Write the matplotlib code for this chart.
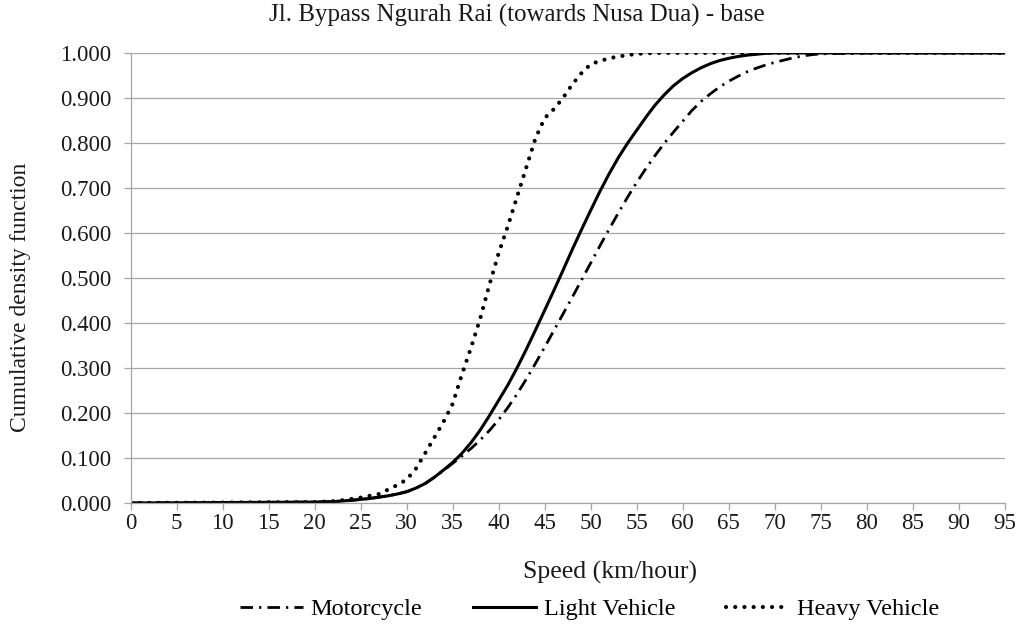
import matplotlib
matplotlib.use("Agg")
import matplotlib.pyplot as plt
from matplotlib.ticker import MultipleLocator, FuncFormatter

plt.rcParams['font.family'] = ['Liberation Serif', 'DejaVu Serif']

# speed (km/hour) and cumulative share
moto_speed = [0, 20, 22, 24, 25, 26, 27, 28, 29, 30, 31, 32, 33, 34, 35, 36, 37, 38,
              39, 40, 41, 42, 43, 44, 45, 46, 47, 48, 49, 50, 51, 52, 53, 54, 55, 56,
              57, 58, 59, 60, 61, 62, 63, 64, 65, 66, 67, 68, 69, 70, 71, 72, 73, 74,
              75, 77, 80, 95]
moto_cdf = [0.0, 0.002, 0.003, 0.006, 0.008, 0.010, 0.013, 0.016, 0.020, 0.025, 0.033,
            0.043, 0.057, 0.072, 0.088, 0.104, 0.121, 0.140, 0.161, 0.185, 0.212, 0.242,
            0.275, 0.310, 0.346, 0.383, 0.420, 0.457, 0.495, 0.533, 0.571, 0.608, 0.644,
            0.679, 0.712, 0.743, 0.772, 0.799, 0.824, 0.848, 0.872, 0.892, 0.909, 0.924,
            0.937, 0.948, 0.958, 0.966, 0.973, 0.979, 0.984, 0.989, 0.993, 0.996, 0.998,
            0.999, 1.0, 1.0]

light_speed = [0, 20, 22, 24, 25, 26, 27, 28, 29, 30, 31, 32, 33, 34, 35, 36, 37, 38,
               39, 40, 41, 42, 43, 44, 45, 46, 47, 48, 49, 50, 51, 52, 53, 54, 55, 56,
               57, 58, 59, 60, 61, 62, 63, 64, 65, 66, 67, 68, 69, 70, 95]
light_cdf = [0.0, 0.002, 0.003, 0.006, 0.008, 0.010, 0.013, 0.016, 0.020, 0.025, 0.033,
             0.043, 0.057, 0.073, 0.090, 0.110, 0.134, 0.162, 0.194, 0.228, 0.262, 0.300,
             0.341, 0.384, 0.428, 0.472, 0.517, 0.563, 0.607, 0.650, 0.692, 0.731, 0.767,
             0.799, 0.828, 0.857, 0.884, 0.907, 0.927, 0.943, 0.956, 0.967, 0.976, 0.983,
             0.988, 0.992, 0.995, 0.997, 0.999, 1.0, 1.0]

heavy_speed = [0, 20, 21, 22, 23, 24, 25, 26, 27, 28, 29, 30, 31, 32, 33, 34, 35, 36,
               37, 38, 39, 40, 41, 42, 43, 44, 45, 46, 47, 48, 49, 50, 51, 52, 53, 54,
               55, 56, 57, 95]
heavy_cdf = [0.0, 0.002, 0.003, 0.004, 0.006, 0.009, 0.012, 0.016, 0.020, 0.030, 0.040,
             0.052, 0.076, 0.110, 0.145, 0.180, 0.220, 0.285, 0.345, 0.410, 0.485, 0.555,
             0.615, 0.680, 0.745, 0.810, 0.855, 0.875, 0.900, 0.930, 0.955, 0.975, 0.982,
             0.988, 0.992, 0.995, 0.998, 0.999, 1.0, 1.0]

grid_col = '#a6a6a6'
text_col = '#1a1a1a'

fig = plt.figure(figsize=(10.2, 6.3), dpi=100)
ax = fig.add_axes([0.128, 0.2016, 0.857, 0.7144])

ax.plot(moto_speed, moto_cdf, color='black', lw=2.0,
        linestyle=(0, (4.5, 2.2, 0.8, 2.2)), label='Motorcycle')
ax.plot(light_speed, light_cdf, color='black', lw=2.2,
        linestyle='-', label='Light Vehicle')
ax.plot(heavy_speed, heavy_cdf, color='black', lw=3.0,
        linestyle=(0, (0.01, 2.2)), dash_capstyle='round', label='Heavy Vehicle')

ax.set_xlim(0, 95)
ax.set_ylim(0, 1.0)
ax.xaxis.set_major_locator(MultipleLocator(5))
ax.yaxis.set_major_locator(MultipleLocator(0.1))
ax.yaxis.set_major_formatter(FuncFormatter(lambda v, p: f'{v:.3f}'))
ax.grid(axis='y', color=grid_col, lw=0.9)
ax.set_axisbelow(True)

for side in ['top', 'right']:
    ax.spines[side].set_visible(False)
for side in ['left', 'bottom']:
    ax.spines[side].set_color(grid_col)
    ax.spines[side].set_linewidth(0.9)
ax.tick_params(axis='both', direction='out', length=5, width=0.9,
               color=grid_col, labelsize=16.5, labelcolor=text_col)
ax.tick_params(axis='y', pad=9)
ax.tick_params(axis='x', pad=2)

fig.text(0.507, 0.975, 'Jl. Bypass Ngurah Rai (towards Nusa Dua) - base',
         ha='center', va='center', fontsize=18, color=text_col)
fig.text(0.598, 0.092, 'Speed (km/hour)', ha='center', va='center',
         fontsize=18.5, color=text_col)
fig.text(0.02, 0.528, 'Cumulative density function', ha='center', va='center',
         rotation=90, fontsize=17, color=text_col)

ax.legend(loc='center', bbox_to_anchor=(0.525, -0.236), ncol=3, frameon=False,
          fontsize=17.5, handlelength=2.6, handletextpad=0.3, columnspacing=2.1)

fig.savefig('out.png', dpi=100)
